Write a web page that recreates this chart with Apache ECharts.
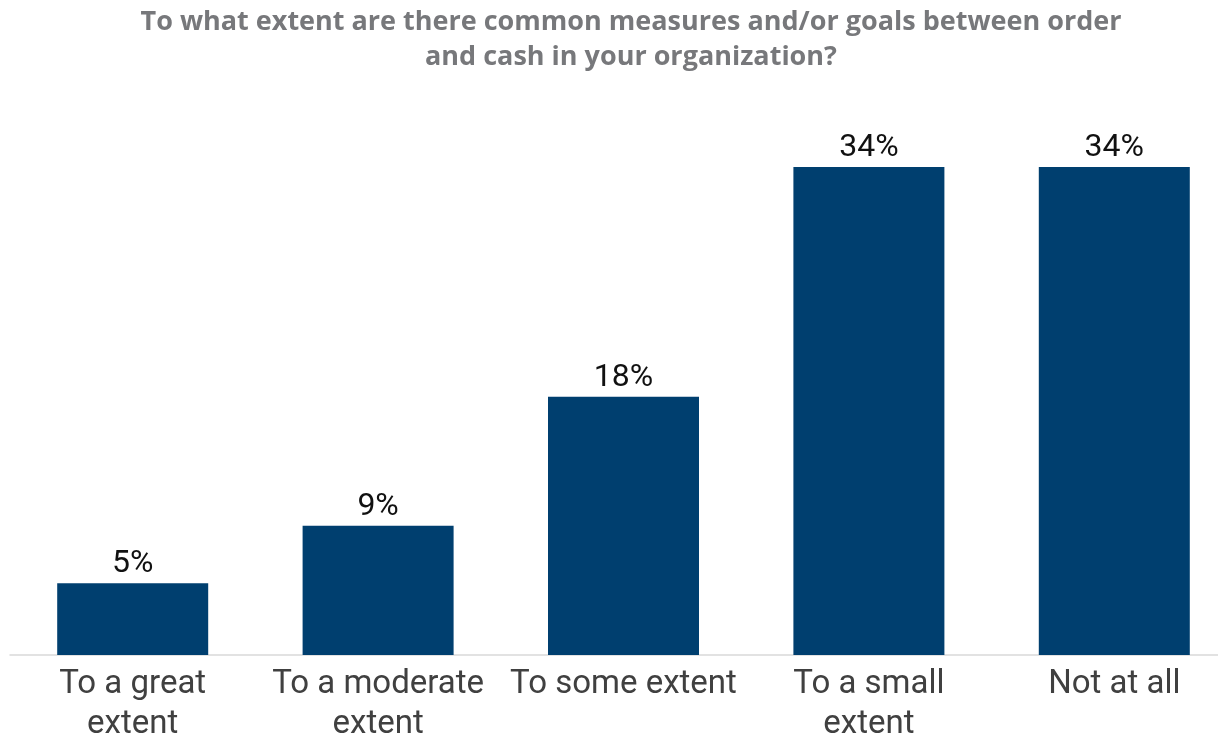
<!DOCTYPE html>
<html>
<head>
<meta charset="utf-8">
<script src="https://cdn.jsdelivr.net/npm/echarts@6/dist/echarts.min.js"></script>
<style>
  html, body { margin: 0; padding: 0; background: #ffffff; }
  #chart { width: 1218px; height: 737px; }
</style>
</head>
<body>
<div id="chart"></div>
<script>
// Survey answers and their share of respondents (%)
const titleText = 'To what extent are there common measures and/or goals between order\nand cash in your organization?';
const categories = ['To a great\nextent', 'To a moderate\nextent', 'To some extent', 'To a small\nextent', 'Not at all'];
const shares = [5, 9, 18, 34, 34];

const chart = echarts.init(document.getElementById('chart'), null, { renderer: 'canvas' });

chart.setOption({
  backgroundColor: '#ffffff',
  animation: false,
  title: {
    text: titleText,
    left: 626,
    textAlign: 'center',
    top: 0,
    textStyle: {
      fontFamily: '"Open Sans", sans-serif',
      fontWeight: 'bold',
      fontSize: 27,
      lineHeight: 35,
      color: '#77787b'
    }
  },
  grid: {
    left: 10,
    right: -19,
    top: 81,
    bottom: 82,
    containLabel: false,
    outerBoundsMode: 'none'
  },
  xAxis: {
    type: 'category',
    data: categories,
    axisLine: { show: true, lineStyle: { color: '#d9d9d9', width: 1.5 } },
    axisTick: { show: false },
    axisLabel: {
      interval: 0,
      margin: 10,
      color: '#404040',
      fontFamily: 'Roboto, sans-serif',
      fontSize: 33,
      lineHeight: 40
    }
  },
  yAxis: {
    type: 'value',
    min: 0,
    max: 40,
    show: false,
    splitLine: { show: false }
  },
  series: [{
    type: 'bar',
    data: shares,
    barWidth: 151,
    itemStyle: { color: '#003f6f' },
    label: {
      show: true,
      position: 'top',
      distance: 3,
      formatter: '{c}%',
      color: '#111111',
      fontFamily: 'Roboto, sans-serif',
      fontSize: 32
    }
  }]
});
</script>
</body>
</html>
